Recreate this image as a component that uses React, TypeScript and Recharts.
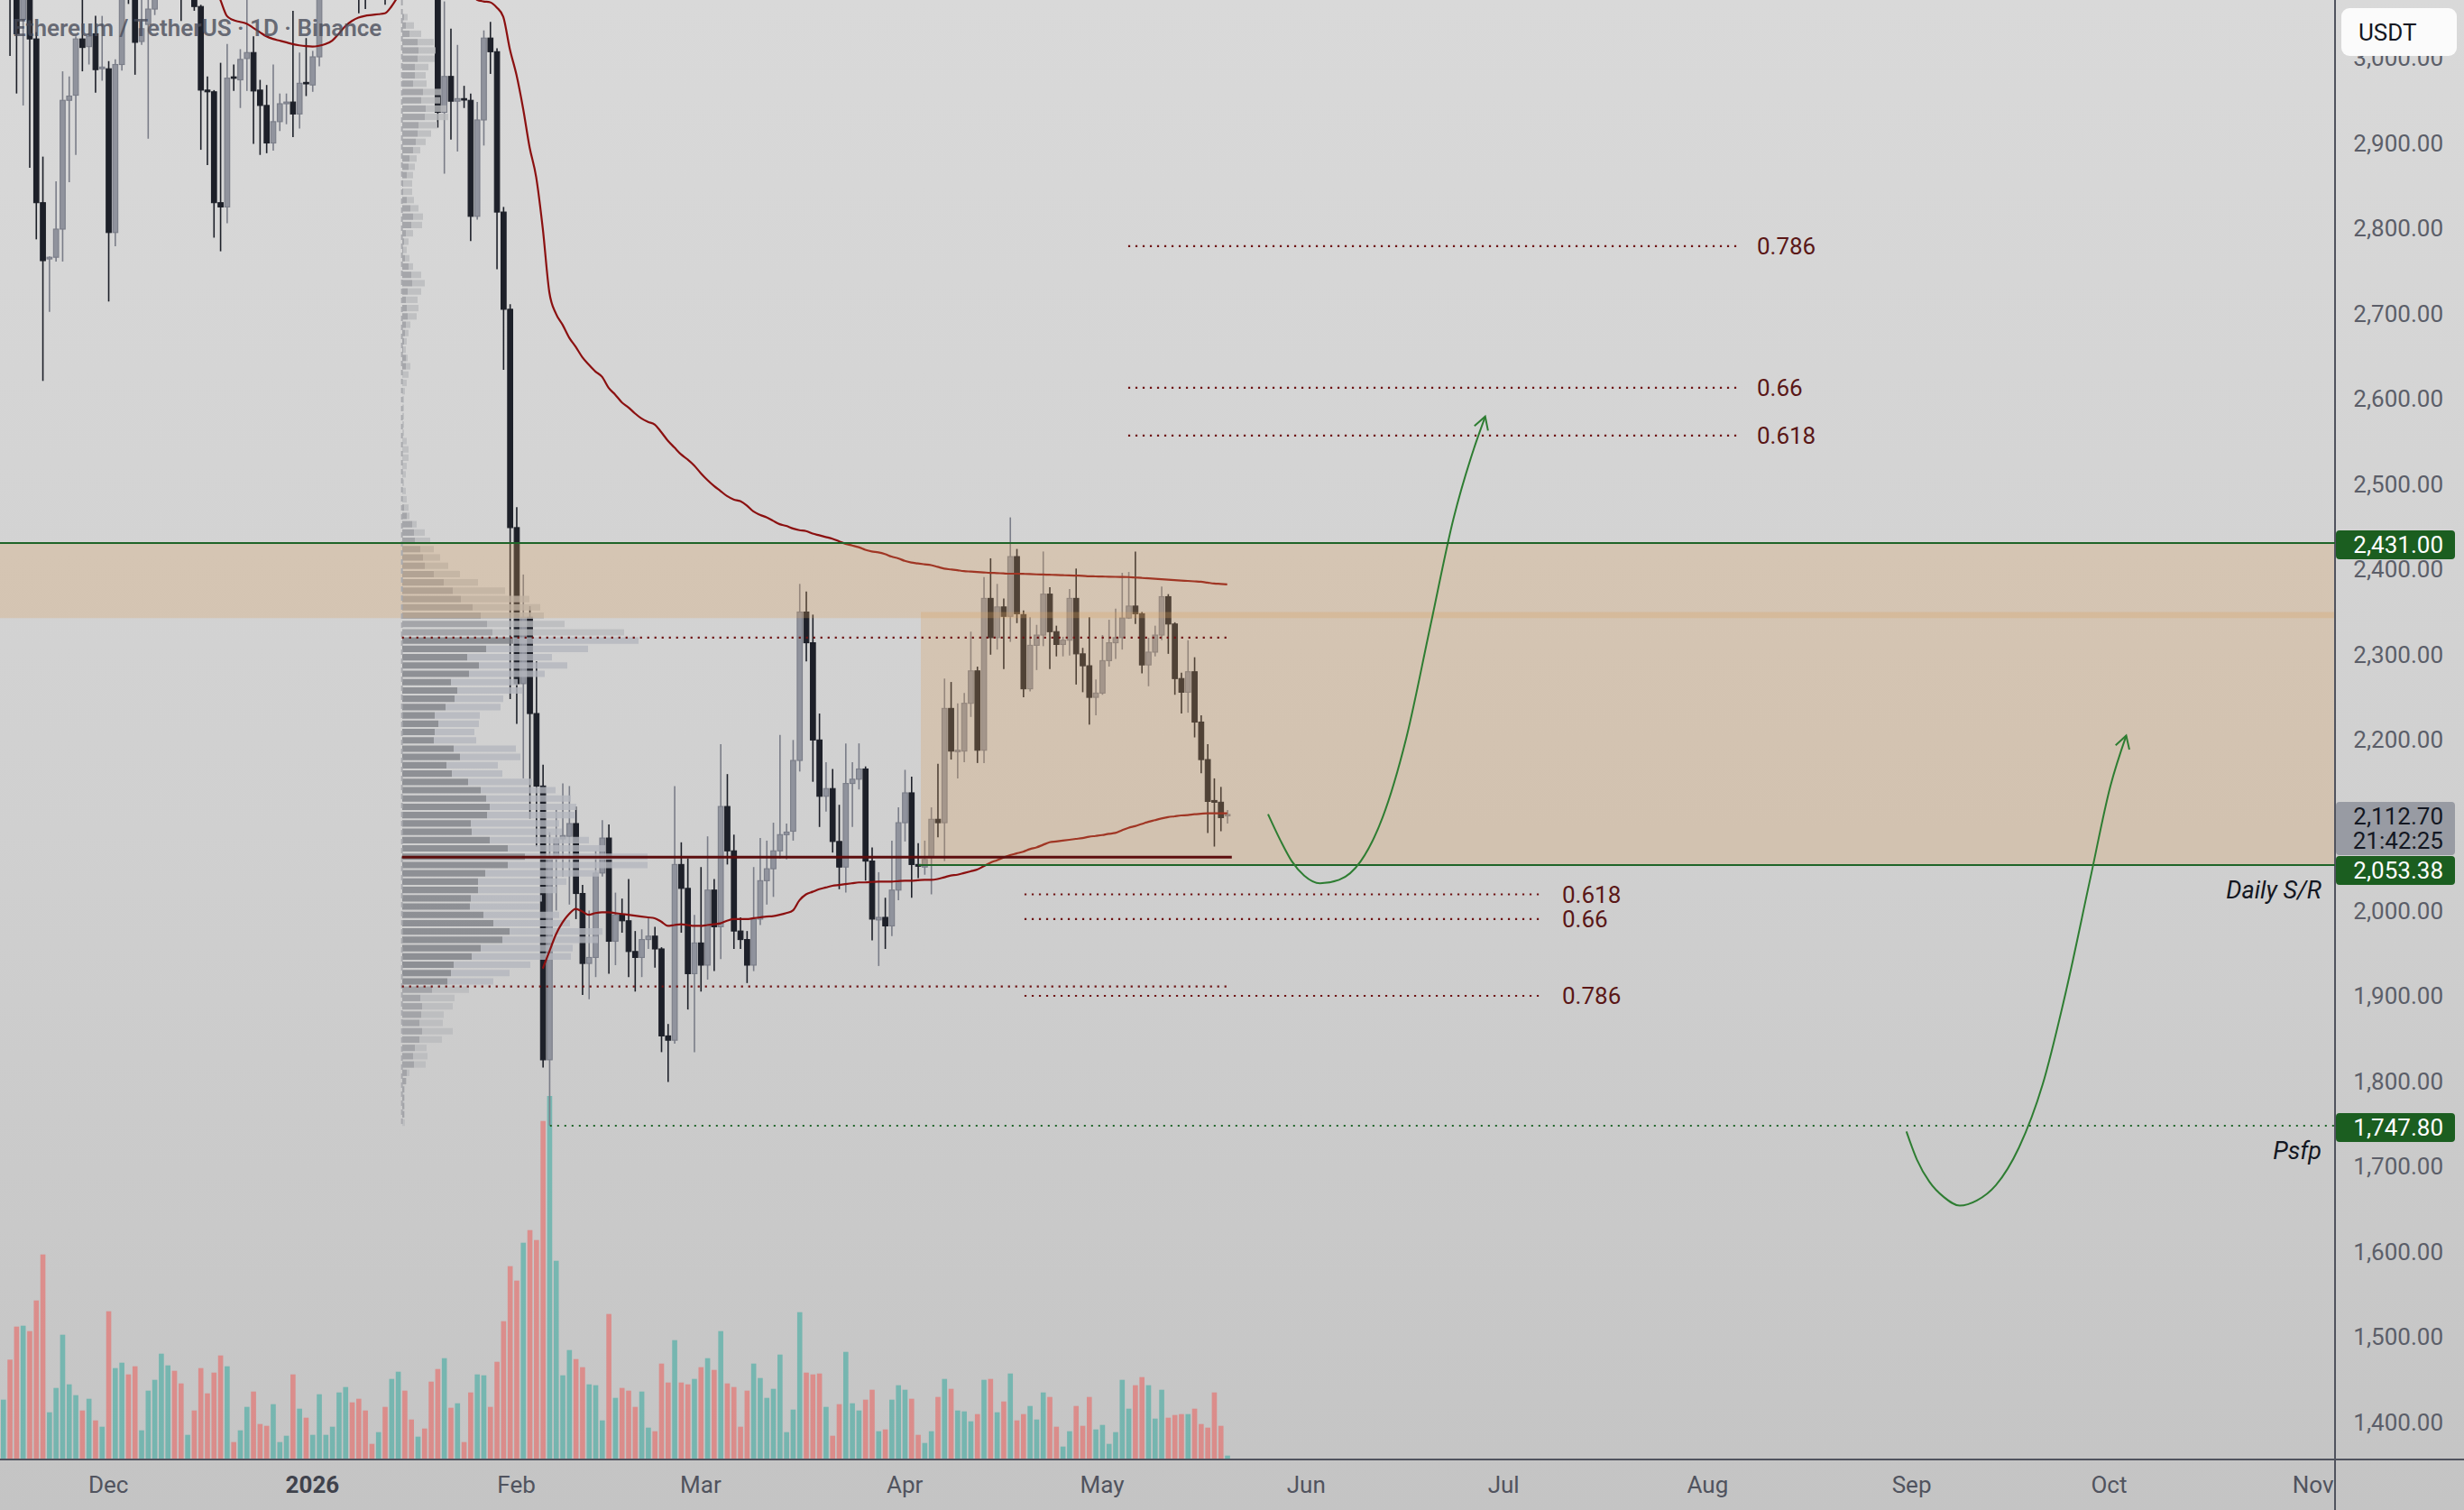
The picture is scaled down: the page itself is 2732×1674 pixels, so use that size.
import React from "react";
import { ComposedChart, Bar, Line, XAxis, YAxis, ReferenceArea, ReferenceLine } from "recharts";

// ---------- layout ----------
const WIDTH = 2732;
const HEIGHT = 1674;
const AXIS_W = 143;
const AXIS_H = 56;
const X_MIN = -16.47; // day index, 0 = 1 Dec 2025
const X_MAX = 338.33;
const Y_MIN = 1356.37;
const Y_MAX = 3067.64;
const VOL_MAX = 16180;
const FONT = 'Roboto, "Noto Sans", Arial, sans-serif';
const AXIS_COLOR = "#50535e";
const FIRST_DAY = -16; // 15 Nov 2025

// ---------- ticks ----------
const monthTicks = [0, 31, 62, 90, 121, 151, 182, 212, 243, 274, 304, 335];
const monthLabels = ["Dec", "2026", "Feb", "Mar", "Apr", "May", "Jun", "Jul", "Aug", "Sep", "Oct", "Nov"];
// 2,100.00 sits under the last-price tag in the reference, so it is not drawn
const priceTicks = [1400, 1500, 1600, 1700, 1800, 1900, 2000, 2200, 2300, 2400, 2500, 2600, 2700, 2800, 2900, 3000];

// ---------- daily candles [open, high, low, close] ----------
const candlesNov = [
  [3085, 3125, 3072, 3110], [3110, 3130, 3002, 3072], [3085, 3100, 2958, 3028], [3045, 3095, 2944, 3075],
  [3075, 3090, 2871, 3022], [3022, 3030, 2787, 2830], [2830, 2884, 2621, 2762], [2764, 2767, 2702, 2766],
  [2766, 2855, 2761, 2799], [2799, 2984, 2761, 2950], [2950, 2978, 2854, 2955], [2956, 3025, 2886, 3022],
  [3022, 3075, 2984, 3012], [3013, 3040, 2992, 3025], [3028, 3049, 2959, 2986], [2987, 3049, 2973, 2989],
];
const candlesDec = [
  [2987, 2996, 2714, 2795], [2795, 2998, 2779, 2992], [2992, 3090, 2985, 3075], [3100, 3112, 3063, 3070],
  [3080, 3095, 2980, 3018], [3019, 3070, 3015, 3034], [3039, 3075, 2905, 3057], [3057, 3090, 3050, 3075],
  [3075, 3120, 3070, 3105], [3105, 3150, 3090, 3135], [3135, 3160, 3085, 3100], [3100, 3115, 3043, 3080],
  [3080, 3105, 3070, 3092], [3092, 3100, 3055, 3060], [3060, 3062, 2892, 2962], [2962, 2978, 2874, 2960],
  [2960, 2962, 2789, 2830], [2830, 2994, 2773, 2825], [2825, 3016, 2806, 2976], [2977.5, 2992, 2961, 2976],
  [2974, 3010, 2941, 2998], [2999, 3070, 2961, 3006], [3006, 3025, 2899, 2961], [2962, 2974, 2886, 2944],
  [2944, 2968, 2888, 2900], [2900, 2992, 2891, 2925], [2925, 2958, 2914, 2946], [2946, 2958, 2922, 2948],
  [2948, 3055, 2907, 2934], [2934, 3006, 2917, 2970], [2971, 3023, 2955, 2970],
];
const candlesJan = [
  [2968, 3008, 2960, 3001], [3001, 3095, 2990, 3080], [3080, 3120, 3072, 3110], [3110, 3160, 3100, 3150],
  [3150, 3210, 3140, 3195], [3195, 3260, 3180, 3240], [3240, 3255, 3170, 3190], [3190, 3200, 3052, 3120],
  [3120, 3135, 3057, 3085], [3085, 3095, 3070, 3078], [3078, 3110, 3072, 3100], [3100, 3108, 3062, 3075],
  [3075, 3150, 3070, 3140], [3140, 3220, 3130, 3200], [3200, 3230, 3140, 3160], [3160, 3170, 3120, 3130],
  [3130, 3160, 3125, 3150], [3150, 3165, 3120, 3130], [3130, 3140, 3080, 3095], [3095, 3110, 2918, 2936],
  [2936, 3066, 2864, 2978], [2978, 3034, 2904, 2949], [2949, 3015, 2890, 2952], [2952, 2967, 2941, 2951],
  [2950, 2958, 2785, 2814], [2814, 2948, 2810, 2927], [2927, 3032, 2897, 3023], [3023, 3042, 2981, 3007],
  [3007, 3011, 2752, 2819], [2819, 2825, 2634, 2705], [2705, 2711, 2248, 2449],
];
const candlesFeb = [
  [2449, 2473, 2219, 2266], [2266, 2394, 2155, 2344], [2344, 2357, 2108, 2231], [2231, 2292, 2075, 2146],
  [2146, 2171, 1816, 1825], [1825, 2092, 1748, 2061], [2061, 2118, 2000, 2084], [2084, 2149, 2040, 2088],
  [2087, 2146, 2007, 2102], [2102, 2122, 1990, 2020], [2020, 2030, 1901, 1938], [1938, 2000, 1896, 1945],
  [1945, 2070, 1922, 2044], [2044, 2106, 2040, 2085], [2085, 2101, 1926, 1964], [1964, 2021, 1936, 1995],
  [1995, 2014, 1974, 1988], [1988, 2037, 1922, 1952], [1952, 1976, 1905, 1945], [1945, 1978, 1922, 1966],
  [1966, 1992, 1955, 1970], [1970, 1981, 1933, 1955], [1955, 1957, 1834, 1853], [1853, 1867, 1799, 1848],
  [1848, 2146, 1844, 2054], [2054, 2080, 1974, 2026], [2026, 2061, 1884, 1926], [1926, 1995, 1834, 1962],
];
const candlesMar = [
  [1962, 2051, 1905, 1936], [1936, 2087, 1919, 2024], [2024, 2037, 1929, 1981], [1981, 2195, 1943, 2122],
  [2122, 2160, 2054, 2070], [2070, 2089, 1955, 1976], [1976, 1992, 1955, 1966], [1966, 1976, 1915, 1936],
  [1936, 2051, 1929, 1990], [1990, 2085, 1983, 2035], [2035, 2082, 2007, 2049], [2049, 2103, 2016, 2070],
  [2070, 2206, 2061, 2089], [2089, 2102, 2060, 2092], [2093, 2200, 2082, 2176], [2176, 2383, 2163, 2350],
  [2350, 2374, 2292, 2314], [2314, 2347, 2151, 2200], [2200, 2231, 2098, 2134], [2134, 2174, 2116, 2143],
  [2143, 2166, 2068, 2081], [2081, 2124, 2025, 2051], [2051, 2196, 2021, 2149], [2149, 2174, 2098, 2154],
  [2154, 2196, 2142, 2166], [2166, 2169, 2035, 2058], [2058, 2074, 1965, 1990], [1989, 2045, 1935, 1992],
  [1992, 2015, 1955, 1982], [1982, 2082, 1970, 2024], [2024, 2121, 2012, 2103],
];
const candlesApr = [
  [2103, 2165, 2081, 2138], [2138, 2157, 2015, 2054], [2054, 2079, 2038, 2052], [2051, 2082, 2042, 2060],
  [2063, 2121, 2019, 2107], [2107, 2172, 2086, 2103], [2103, 2272, 2058, 2237], [2237, 2268, 2177, 2187],
  [2187, 2243, 2155, 2188], [2187, 2255, 2174, 2243], [2243, 2327, 2227, 2281], [2281, 2286, 2173, 2188],
  [2188, 2391, 2173, 2366], [2366, 2413, 2300, 2320], [2320, 2383, 2306, 2356], [2356, 2366, 2283, 2345],
  [2345, 2461, 2315, 2415], [2415, 2424, 2337, 2348], [2347, 2352, 2250, 2260], [2260, 2344, 2257, 2311],
  [2311, 2335, 2282, 2323], [2323, 2421, 2310, 2371], [2371, 2379, 2283, 2327], [2327, 2334, 2298, 2312],
  [2312, 2321, 2298, 2317], [2317, 2377, 2299, 2366], [2366, 2401, 2265, 2301], [2301, 2308, 2256, 2287],
  [2287, 2344, 2218, 2250], [2250, 2271, 2229, 2255],
];
const candlesMay = [
  [2255, 2323, 2253, 2293], [2293, 2341, 2286, 2314], [2314, 2354, 2295, 2320], [2320, 2396, 2306, 2343],
  [2343, 2397, 2342, 2357], [2357, 2421, 2336, 2348], [2348, 2350, 2278, 2288], [2288, 2320, 2263, 2303],
  [2303, 2334, 2298, 2323], [2323, 2380, 2317, 2368], [2368, 2371, 2301, 2336], [2336, 2338, 2253, 2272],
  [2272, 2279, 2231, 2256], [2256, 2317, 2232, 2280], [2280, 2297, 2203, 2221], [2221, 2229, 2161, 2177],
  [2177, 2195, 2091, 2128], [2129, 2155, 2075, 2127], [2127, 2145, 2093, 2109], [2111, 2118, 2102, 2112.7],
];

// ---------- daily volume ----------
const volNov = [663, 1107, 1473, 1483, 1423, 1763, 2273, 523, 793, 1383, 833, 713, 543, 673, 433, 363];
const volDec = [1643, 1013, 1073, 943, 1033, 323, 763, 883, 1173, 1043, 983, 843, 273, 543, 1013, 733, 963, 1153, 1033, 193, 323, 583, 753, 393, 373, 613, 193, 263, 943, 563, 463];
const volJan = [273, 723, 273, 363, 743, 803, 633, 673, 543, 173, 303, 583, 893, 973, 763, 443, 253, 343, 863, 1003, 1123, 573, 623, 193, 743, 943, 933, 583, 1083, 1533, 2143];
const volFeb = [1983, 2403, 2543, 2433, 3753, 4030, 2203, 933, 1213, 1113, 1023, 833, 823, 433, 1613, 683, 793, 763, 583, 753, 353, 313, 1063, 853, 1323, 853, 833, 893];
const volMar = [1023, 1123, 993, 1423, 843, 803, 363, 763, 1063, 903, 683, 783, 1163, 303, 553, 1633, 963, 943, 953, 583, 263, 613, 1193, 623, 543, 663, 773, 313, 333, 663, 823];
const volApr = [773, 673, 273, 183, 313, 693, 893, 783, 543, 533, 423, 503, 883, 893, 523, 643, 953, 433, 503, 593, 443, 743, 693, 363, 143, 313, 593, 373, 693, 333];
const volMay = [383, 173, 303, 883, 563, 823, 913, 823, 453, 773, 463, 493, 503, 503, 563, 393, 353, 743, 373, 43];

// ---------- anchored VWAP style curves ----------
const vwapDecStart = 16;
const vwapDec = [3085, 3068, 3049, 3044, 3042, 3040, 3035, 3030, 3025, 3022, 3020, 3018, 3016, 3014.5, 3013.5, 3013, 3014, 3016, 3020, 3028, 3037, 3043, 3047, 3049, 3050, 3051, 3052, 3060, 3072];
const vwapHighStart = 55;
const vwapHigh = [3075, 3068, 3066, 3065, 3059, 3048, 3010, 2980, 2941, 2895, 2860, 2800, 2725, 2700, 2687, 2672, 2661, 2649, 2640, 2632, 2626, 2613, 2605, 2596, 2590, 2583, 2577, 2573, 2570, 2561, 2551, 2543, 2535, 2529, 2522, 2513, 2505, 2498, 2492, 2486, 2482, 2480, 2475, 2468, 2464, 2461, 2457, 2453, 2451, 2448, 2446, 2445, 2442, 2440, 2438, 2436, 2433, 2430, 2428, 2426, 2423, 2421, 2420, 2418, 2415, 2413, 2410, 2408, 2407, 2406, 2405, 2403, 2401, 2400, 2399, 2398, 2397.5, 2397, 2396.5, 2396, 2395.7, 2395.3, 2395, 2395, 2394.8, 2394.5, 2394.2, 2394, 2393.7, 2393.5, 2393.2, 2393, 2392.7, 2392.5, 2392, 2391.8, 2391.6, 2391.5, 2391.3, 2391.2, 2391, 2390.5, 2390, 2389.5, 2389, 2388.5, 2388, 2387.5, 2387, 2386.5, 2386, 2385.5, 2384.5, 2383.5, 2383, 2382.5];
const vwapLowStart = 66;
const vwapLow = [1932, 1952, 1972, 1986, 1996, 2002, 1999, 1995, 1997, 1998, 1998, 1997, 1996, 1995, 1994, 1993, 1992, 1991, 1987, 1982, 1983, 1984, 1983, 1982, 1982, 1983, 1984, 1985, 1988, 1990, 1990, 1990, 1991, 1992, 1993, 1993.5, 1995, 1997, 2000, 2012, 2019, 2022, 2025, 2027, 2029, 2030, 2031, 2032, 2033, 2033, 2033.5, 2034, 2034, 2034, 2034.5, 2035, 2035, 2035.5, 2036, 2036, 2037, 2039, 2041, 2042, 2044, 2046, 2048, 2052, 2056, 2059, 2062, 2065, 2067, 2069, 2072, 2074, 2077, 2080, 2081, 2082, 2083, 2084, 2085, 2086.5, 2087.5, 2088.5, 2090, 2091, 2094, 2097, 2099, 2101.5, 2104, 2106, 2108, 2109.5, 2110.5, 2111.5, 2112, 2113, 2113.5, 2114, 2114, 2114, 2114];

// ---------- fixed range volume profile (rows from 1,746.4 upward) ----------
const VP_BASE = 1746.4;
const VP_STEP = 9.746;
const VAL_ROW = 17;
const VAH_ROW = 58;
const profileUp = [0, 2, 2, 2, 2, 4, 5, 13, 12, 14, 19, 22, 19, 21, 22, 20, 33, 50, 54, 57, 77, 87, 111, 119, 101, 90, 75, 76, 84, 84, 92, 117, 136, 117, 97, 77, 76, 94, 97, 93, 87, 73, 55, 49, 64, 57, 35, 36, 40, 36, 48, 58, 61, 54, 74, 85, 72, 93, 123, 100, 94, 87, 78, 65, 56, 46, 35, 25, 23, 20, 14, 13, 11, 5, 2, 0, 0, 0, 0, 0, 0, 0, 0, 0, 0, 0, 0, 0, 0, 0, 0, 4, 4, 1, 2, 3, 4, 6, 5, 4, 6, 11, 10, 7, 3, 1, 2, 4, 10, 12, 9, 5, 1, 1, 5, 7, 8, 12, 15, 17, 18, 25, 26, 21, 23, 12, 14, 14, 17, 18, 17, 8, 4, 2];
const profileDown = [3, 1, 1, 1, 1, 1, 3, 13, 16, 13, 25, 34, 26, 25, 34, 38, 41, 51, 65, 85, 110, 102, 106, 103, 85, 84, 77, 79, 87, 98, 126, 155, 136, 108, 110, 100, 98, 98, 96, 94, 83, 71, 56, 57, 67, 69, 47, 44, 45, 50, 61, 54, 72, 74, 84, 98, 94, 113, 139, 146, 86, 70, 75, 76, 58, 38, 29, 26, 19, 15, 17, 12, 5, 3, 5, 5, 4, 2, 4, 5, 7, 7, 5, 2, 2, 2, 2, 2, 3, 5, 7, 5, 2, 3, 3, 4, 5, 10, 13, 13, 15, 14, 11, 5, 5, 4, 5, 8, 12, 11, 9, 8, 10, 10, 7, 7, 8, 8, 11, 15, 21, 26, 23, 21, 20, 15, 12, 15, 19, 19, 18, 13, 9, 4];

// ---------- levels ----------
const profileStartDay = 44.6;
const pocEndDay = 170.7;
const vaEndDay = 170.0;
const levelPOC = 2062.5;
const levelVAH = 2320;
const levelVAL = 1911;
const resistance = 2431;
const zoneBottom = 2343;
const boxTop = 2350;
const dailySR = 2053.38;
const psfp = 1747.8;
const lastPrice = 2112.7;
const boxStartDay = 123.45;
const srStartDay = 123.1;
const psfpStartDay = 67.1;
const fibUpper = [{ r: "0.786", p: 2779 }, { r: "0.66", p: 2613 }, { r: "0.618", p: 2557 }];
const fibUpperSpan = [154.96, 247.6];
const fibLower = [{ r: "0.618", p: 2019 }, { r: "0.66", p: 1990 }, { r: "0.786", p: 1900 }];
const fibLowerSpan = [139.2, 218.0];

// ---------- projected paths ----------
const pathNear = [
  { d: 176.2, p: 2113 }, { d: 178.1, p: 2082 }, { d: 179.8, p: 2058 }, { d: 181.7, p: 2041 }, { d: 184.1, p: 2032 },
  { d: 187, p: 2036 }, { d: 190.3, p: 2058 }, { d: 193.6, p: 2109 }, { d: 197.2, p: 2202 }, { d: 200.8, p: 2331 },
  { d: 204.4, p: 2460 }, { d: 207.5, p: 2542 }, { d: 209.2, p: 2579 },
];
const headNear = [{ d: 207.56, p: 2568.1 }, { d: 209.2, p: 2579.3 }, { d: 209.63, p: 2562.7 }];
const pathFar = [
  { d: 273.2, p: 1741 }, { d: 274.8, p: 1708 }, { d: 276.7, p: 1682 }, { d: 278.9, p: 1664 }, { d: 281.3, p: 1654 },
  { d: 283.9, p: 1660 }, { d: 286.8, p: 1678 }, { d: 290.3, p: 1722 }, { d: 293.9, p: 1796 }, { d: 297.5, p: 1907 },
  { d: 301.1, p: 2036 }, { d: 304.2, p: 2146 }, { d: 306.6, p: 2205 },
];
const headFar = [{ d: 304.99, p: 2193.8 }, { d: 306.6, p: 2205.2 }, { d: 307.08, p: 2188.7 }];

// ---------- build table ----------
const allCandles = [...candlesNov, ...candlesDec, ...candlesJan, ...candlesFeb, ...candlesMar, ...candlesApr, ...candlesMay];
const allVolumes = [...volNov, ...volDec, ...volJan, ...volFeb, ...volMar, ...volApr, ...volMay];
const rows: any[] = allCandles.map((k, i) => ({
  d: FIRST_DAY + i, o: k[0], h: k[1], l: k[2], c: k[3], range: [k[2], k[1]], v: allVolumes[i],
}));
const put = (key: string, start: number, arr: number[]) =>
  arr.forEach((val, j) => {
    const r = rows[start + j - FIRST_DAY];
    if (r) r[key] = val;
  });
put("vwapDec", vwapDecStart, vwapDec);
put("vwapHigh", vwapHighStart, vwapHigh);
put("vwapLow", vwapLowStart, vwapLow);

const fmtPrice = (v: number) => v.toLocaleString("en-US", { minimumFractionDigits: 2, maximumFractionDigits: 2 });

// ---------- shapes ----------
function CandleShape(props: any) {
  const { x, y, width, height, payload } = props;
  if (!payload || !Number.isFinite(x) || !Number.isFinite(y)) return <g />;
  const { o, h, l, c } = payload;
  const top = Math.min(y, y + height);
  const bottom = Math.max(y, y + height);
  const k = (bottom - top) / (h - l || 1);
  const py = (p: number) => top + (h - p) * k;
  const cx = x + width / 2;
  const up = c >= o;
  const edge = up ? "#7a7d88" : "#1d2029";
  const bodyTop = py(Math.max(o, c));
  const bodyH = Math.max(py(Math.min(o, c)) - bodyTop, 1.6);
  return (
    <g>
      <line x1={cx} x2={cx} y1={top} y2={bottom} stroke={edge} strokeWidth={1.6} />
      <rect x={cx - 2.8} y={bodyTop} width={5.6} height={bodyH} fill={up ? "#90939d" : "#1d2029"} stroke={edge} strokeWidth={1.1} />
    </g>
  );
}

function VolumeShape(props: any) {
  const { x, y, width, height, payload } = props;
  if (!payload || !Number.isFinite(x)) return <g />;
  const up = payload.c >= payload.o;
  const cx = x + width / 2;
  return <rect x={cx - 2.8} y={y} width={5.6} height={Math.max(height, 0)} fill={up ? "#26a69a" : "#ef5350"} fillOpacity={0.5} />;
}

function MonthTick(props: any) {
  const { x, payload } = props;
  const idx = monthTicks.indexOf(payload?.value);
  const label = idx >= 0 ? monthLabels[idx] : "";
  const isYear = label === "2026";
  return (
    <text x={x} y={1646} dy="0.35em" textAnchor="middle" fill={isYear ? "#3f424c" : "#50535e"} fontSize={26} fontWeight={isYear ? 700 : 400} fontFamily={FONT}>
      {label}
    </text>
  );
}

function PriceTick(props: any) {
  const { y, payload } = props;
  return (
    <text x={2709} y={y} dy="0.35em" textAnchor="end" fill="#5b5e69" fontSize={26} fontFamily={FONT}>
      {fmtPrice(payload.value)}
    </text>
  );
}

const vbOf = (props: any) => props?.viewBox ?? props ?? {};

const tagLabel = (text: string, bg: string, fg: string, shift: number) => (props: any) => {
  const vb = vbOf(props);
  const right = vb.x + vb.width;
  const cy = vb.y + shift;
  return (
    <g>
      <rect x={right + 1} y={cy - 16} width={132} height={32} rx={4} fill={bg} />
      <text x={2709} y={cy} dy="0.36em" textAnchor="end" fill={fg} fontSize={26} fontFamily={FONT}>{text}</text>
    </g>
  );
};

const lastPriceLabel = (props: any) => {
  const vb = vbOf(props);
  const right = vb.x + vb.width;
  return (
    <g>
      <rect x={right + 1} y={vb.y - 14} width={132} height={59} rx={4} fill="#989ba3" />
      <text x={2709} y={vb.y + 2} dy="0.36em" textAnchor="end" fill="#131722" fontSize={26} fontFamily={FONT}>{fmtPrice(lastPrice)}</text>
      <text x={2709} y={vb.y + 29} dy="0.36em" textAnchor="end" fill="#131722" fontSize={26} fontFamily={FONT}>21:42:25</text>
    </g>
  );
};

const fibLabel = (text: string) => (props: any) => {
  const vb = vbOf(props);
  return (
    <text x={vb.x + vb.width + 21} y={vb.y} dy="0.36em" fill="#5a1717" fontSize={26} fontFamily={FONT}>{text}</text>
  );
};

const noteLabel = (text: string) => (props: any) => {
  const vb = vbOf(props);
  return (
    <text x={vb.x + vb.width - 15} y={vb.y + 27} dy="0.36em" textAnchor="end" fill="#131722" fontSize={27} fontStyle="italic" fontFamily={FONT}>{text}</text>
  );
};

export default function App() {
  const profileAreas: any[] = [];
  profileUp.forEach((up, i) => {
    const down = profileDown[i];
    const y1 = VP_BASE + i * VP_STEP + 1.1;
    const y2 = VP_BASE + (i + 1) * VP_STEP - 1.1;
    const inVA = i >= VAL_ROW && i <= VAH_ROW;
    const upColor = inVA ? "#7d7f86" : "#999a9f";
    const downColor = inVA ? "#b4b6be" : "#b9babd";
    if (up > 0)
      profileAreas.push(
        <ReferenceArea key={"pu" + i} xAxisId="vp" yAxisId="price" x1={0} x2={up} y1={y1} y2={y2} fill={upColor} fillOpacity={0.8} stroke="none" ifOverflow="visible" zIndex={320} />
      );
    if (down > 0)
      profileAreas.push(
        <ReferenceArea key={"pd" + i} xAxisId="vp" yAxisId="price" x1={up} x2={up + down} y1={y1} y2={y2} fill={downColor} fillOpacity={0.8} stroke="none" ifOverflow="visible" zIndex={320} />
      );
  });

  const dotted = "2.2 5.8";

  return (
    <div
      style={{
        position: "absolute", left: 0, top: 0, width: WIDTH, height: HEIGHT, overflow: "hidden",
        background: "linear-gradient(180deg, #d9d9d9 0%, #d0d0d0 55%, #c4c4c4 100%)", fontFamily: FONT,
      }}
    >
      <ComposedChart width={WIDTH} height={HEIGHT} data={rows} margin={{ top: 0, right: 0, bottom: 0, left: 0 }}>
        <XAxis xAxisId="main" dataKey="d" type="number" domain={[X_MIN, X_MAX]} allowDataOverflow ticks={monthTicks} interval={0}
          tick={(p: any) => <MonthTick {...p} />} tickLine={false} axisLine={{ stroke: AXIS_COLOR, strokeWidth: 2 }} height={AXIS_H} />
        <XAxis xAxisId="xv" dataKey="d" type="number" domain={[X_MIN, X_MAX]} allowDataOverflow hide />
        <XAxis xAxisId="xa" dataKey="d" type="number" domain={[X_MIN, X_MAX]} allowDataOverflow hide />
        <XAxis xAxisId="vp" dataKey="d" type="number" domain={[-446, 2143]} allowDataOverflow hide />
        <YAxis yAxisId="price" orientation="right" type="number" domain={[Y_MIN, Y_MAX]} allowDataOverflow ticks={priceTicks} interval={0}
          tick={(p: any) => <PriceTick {...p} />} tickLine={false} axisLine={{ stroke: AXIS_COLOR, strokeWidth: 2 }} width={AXIS_W} />
        <YAxis yAxisId="vol" type="number" domain={[0, VOL_MAX]} allowDataOverflow hide />

        <Bar xAxisId="xv" yAxisId="vol" dataKey="v" barSize={6} shape={(p: any) => <VolumeShape {...p} />} isAnimationActive={false} zIndex={300} />
        <Bar xAxisId="main" yAxisId="price" dataKey="range" barSize={6} shape={(p: any) => <CandleShape {...p} />} isAnimationActive={false} zIndex={310} />

        {profileAreas}

        <Line xAxisId="main" yAxisId="price" dataKey="vwapDec" stroke="#8b1010" strokeWidth={2.2} dot={false} activeDot={false} type="monotone" isAnimationActive={false} zIndex={400} />
        <Line xAxisId="main" yAxisId="price" dataKey="vwapHigh" stroke="#8b1010" strokeWidth={2.2} dot={false} activeDot={false} type="monotone" isAnimationActive={false} zIndex={400} />
        <Line xAxisId="main" yAxisId="price" dataKey="vwapLow" stroke="#8b1010" strokeWidth={2.2} dot={false} activeDot={false} type="monotone" isAnimationActive={false} zIndex={400} />

        <ReferenceArea xAxisId="main" yAxisId="price" x1={X_MIN} x2={X_MAX} y1={zoneBottom} y2={resistance} fill="#d9a05b" fillOpacity={0.27} stroke="none" ifOverflow="visible" zIndex={450} />
        <ReferenceArea xAxisId="main" yAxisId="price" x1={boxStartDay} x2={X_MAX} y1={dailySR} y2={boxTop} fill="#d9a05b" fillOpacity={0.27} stroke="none" ifOverflow="visible" zIndex={450} />

        <ReferenceLine xAxisId="main" yAxisId="price" segment={[{ x: profileStartDay, y: Y_MAX }, { x: profileStartDay, y: 1747 }]} stroke="#a9aaae" strokeWidth={2} strokeDasharray="6 4" ifOverflow="visible" zIndex={500} />
        <ReferenceLine xAxisId="main" yAxisId="price" segment={[{ x: profileStartDay, y: levelPOC }, { x: pocEndDay, y: levelPOC }]} stroke="#5c0e0e" strokeWidth={3} ifOverflow="visible" zIndex={500} />
        <ReferenceLine xAxisId="main" yAxisId="price" segment={[{ x: profileStartDay, y: levelVAH }, { x: vaEndDay, y: levelVAH }]} stroke="#6e1313" strokeWidth={2.2} strokeDasharray={dotted} ifOverflow="visible" zIndex={500} />
        <ReferenceLine xAxisId="main" yAxisId="price" segment={[{ x: profileStartDay, y: levelVAL }, { x: vaEndDay, y: levelVAL }]} stroke="#6e1313" strokeWidth={2.2} strokeDasharray={dotted} ifOverflow="visible" zIndex={500} />

        {fibUpper.map((f) => (
          <ReferenceLine key={"fu" + f.r} xAxisId="main" yAxisId="price" segment={[{ x: fibUpperSpan[0], y: f.p }, { x: fibUpperSpan[1], y: f.p }]}
            stroke="#6e1313" strokeWidth={2.2} strokeDasharray={dotted} ifOverflow="visible" label={fibLabel(f.r)} zIndex={500} />
        ))}
        {fibLower.map((f) => (
          <ReferenceLine key={"fl" + f.r} xAxisId="main" yAxisId="price" segment={[{ x: fibLowerSpan[0], y: f.p }, { x: fibLowerSpan[1], y: f.p }]}
            stroke="#6e1313" strokeWidth={2.2} strokeDasharray={dotted} ifOverflow="visible" label={fibLabel(f.r)} zIndex={500} />
        ))}

        <ReferenceLine xAxisId="main" yAxisId="price" y={resistance} stroke="#1e6428" strokeWidth={2} ifOverflow="visible" label={tagLabel(fmtPrice(resistance), "#1b5e20", "#ffffff", 2)} zIndex={2500} />
        <ReferenceLine xAxisId="main" yAxisId="price" segment={[{ x: srStartDay, y: dailySR }, { x: X_MAX, y: dailySR }]} stroke="#1e6428" strokeWidth={2} ifOverflow="visible" label={noteLabel("Daily S/R")} zIndex={500} />
        <ReferenceLine xAxisId="main" yAxisId="price" y={dailySR} stroke="none" strokeOpacity={0} ifOverflow="visible" label={tagLabel(fmtPrice(dailySR), "#1b5e20", "#ffffff", 6)} zIndex={2500} />
        <ReferenceLine xAxisId="main" yAxisId="price" segment={[{ x: psfpStartDay, y: psfp }, { x: X_MAX, y: psfp }]} stroke="#1e6428" strokeWidth={2} strokeDasharray="2 6" ifOverflow="visible" label={noteLabel("Psfp")} zIndex={500} />
        <ReferenceLine xAxisId="main" yAxisId="price" y={psfp} stroke="none" strokeOpacity={0} ifOverflow="visible" label={tagLabel(fmtPrice(psfp), "#1b5e20", "#ffffff", 2)} zIndex={2500} />
        <ReferenceLine xAxisId="main" yAxisId="price" y={lastPrice} stroke="none" strokeOpacity={0} ifOverflow="visible" label={lastPriceLabel} zIndex={2500} />

        <Line xAxisId="xa" yAxisId="price" data={pathNear} dataKey="p" stroke="#2e7d32" strokeWidth={2} dot={false} activeDot={false} type="monotone" isAnimationActive={false} zIndex={550} />
        <Line xAxisId="xa" yAxisId="price" data={headNear} dataKey="p" stroke="#2e7d32" strokeWidth={2} dot={false} activeDot={false} type="linear" isAnimationActive={false} zIndex={550} />
        <Line xAxisId="xa" yAxisId="price" data={pathFar} dataKey="p" stroke="#2e7d32" strokeWidth={2} dot={false} activeDot={false} type="monotone" isAnimationActive={false} zIndex={550} />
        <Line xAxisId="xa" yAxisId="price" data={headFar} dataKey="p" stroke="#2e7d32" strokeWidth={2} dot={false} activeDot={false} type="linear" isAnimationActive={false} zIndex={550} />
      </ComposedChart>

      <div style={{ position: "absolute", left: 2588, top: 1618, width: 2, height: 56, background: AXIS_COLOR }} />
      <div style={{ position: "absolute", left: 2589, top: 1617, width: 143, height: 2, background: AXIS_COLOR }} />

      <div
        style={{
          position: "absolute", left: 14, top: 14, fontSize: 26, fontWeight: 600, lineHeight: "34px",
          color: "rgba(72,75,88,0.8)", whiteSpace: "nowrap", fontFamily: FONT,
        }}
      >
        Ethereum / TetherUS · 1D · Binance
      </div>
      <div
        style={{
          position: "absolute", left: 2596, top: 9, width: 128, height: 53, background: "#fbfbfb", borderRadius: 9,
          fontSize: 26, color: "#131722", display: "flex", alignItems: "center", paddingLeft: 19, boxSizing: "border-box", fontFamily: FONT,
        }}
      >
        USDT
      </div>
    </div>
  );
}
